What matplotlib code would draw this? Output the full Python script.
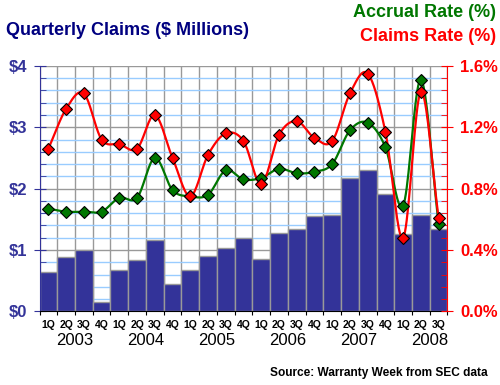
import numpy as np
import matplotlib
matplotlib.use('Agg')
import matplotlib.pyplot as plt
from matplotlib.ticker import MultipleLocator, FixedLocator, FuncFormatter
from matplotlib.transforms import blended_transform_factory

plt.rcParams['font.family'] = ['Liberation Sans', 'DejaVu Sans']

quarters = ['1Q', '2Q', '3Q', '4Q'] * 5 + ['1Q', '2Q', '3Q']
years = ['2003', '2004', '2005', '2006', '2007', '2008']

# quarterly claims, $ millions
claims = [0.64, 0.88, 1.00, 0.15, 0.68, 0.83, 1.17, 0.44, 0.68, 0.91, 1.04, 1.19,
          0.86, 1.28, 1.35, 1.55, 1.57, 2.17, 2.30, 1.92, 1.26, 1.57, 1.35]
# claims rate, %
claims_rate = [1.06, 1.32, 1.42, 1.12, 1.09, 1.06, 1.28, 1.00, 0.75, 1.02, 1.16, 1.11,
               0.83, 1.15, 1.24, 1.13, 1.11, 1.42, 1.55, 1.17, 0.48, 1.43, 0.61]
# accrual rate, %
accrual_rate = [0.67, 0.65, 0.65, 0.65, 0.74, 0.74, 1.00, 0.79, 0.75, 0.76, 0.92, 0.86,
                0.87, 0.93, 0.90, 0.91, 0.96, 1.18, 1.23, 1.07, 0.69, 1.51, 0.57]

NAVY = '#333399'
RED = '#ff0000'
GREEN = '#007700'


def smooth(x, y, n=20):
    # catmull-rom curve through the points, just for drawing
    x = np.asarray(x, float)
    y = np.asarray(y, float)
    px = np.concatenate([[2 * x[0] - x[1]], x, [2 * x[-1] - x[-2]]])
    py = np.concatenate([[2 * y[0] - y[1]], y, [2 * y[-1] - y[-2]]])
    xs, ys = [], []
    t = np.linspace(0, 1, n, endpoint=False)
    for i in range(1, len(px) - 2):
        for p, out in ((px, xs), (py, ys)):
            p0, p1, p2, p3 = p[i - 1], p[i], p[i + 1], p[i + 2]
            out.extend(0.5 * (2 * p1 + (-p0 + p2) * t
                              + (2 * p0 - 5 * p1 + 4 * p2 - p3) * t ** 2
                              + (-p0 + 3 * p1 - 3 * p2 + p3) * t ** 3))
    xs.append(x[-1])
    ys.append(y[-1])
    return xs, ys


fig = plt.figure(figsize=(5, 3.85), dpi=100)
ax = fig.add_axes([0.079, 0.191, 0.816, 0.638])
x = np.arange(len(claims))

ax.bar(x, claims, width=1.0, color=NAVY, edgecolor='#999999', linewidth=1, zorder=2)
ax.set_xlim(-0.5, len(claims) - 0.5)
ax.set_ylim(0, 4)
ax.set_axisbelow(True)

ax.yaxis.set_major_locator(MultipleLocator(1))
ax.yaxis.set_minor_locator(MultipleLocator(0.2))
ax.yaxis.set_major_formatter(FuncFormatter(lambda v, p: f'${v:.0f}'))
ax.grid(which='minor', axis='y', color='#99ccff', linewidth=1)
ax.grid(which='major', axis='y', color='#999999', linewidth=1)

ax.xaxis.set_major_locator(FixedLocator(np.arange(len(claims) + 1) - 0.5))
ax.xaxis.set_minor_locator(FixedLocator(x))
ax.set_xticklabels([])
ax.set_xticklabels(quarters, minor=True, fontsize=7.5, fontweight='bold')
ax.grid(which='major', axis='x', color='#999999', linewidth=1)
ax.tick_params(axis='x', which='major', length=3, color='black')
ax.tick_params(axis='x', which='minor', length=0, pad=6)

ax.tick_params(axis='y', which='major', direction='inout', length=8, color=NAVY,
               labelcolor=NAVY, labelsize=12, pad=5)
ax.tick_params(axis='y', which='minor', direction='in', length=4, color=NAVY)
for lab in ax.get_yticklabels():
    lab.set_fontweight('bold')
ax.spines['top'].set_visible(False)
ax.spines['left'].set_color(NAVY)
ax.spines['right'].set_visible(False)

tr = blended_transform_factory(ax.transData, ax.transAxes)
for k, yr in enumerate(years):
    ax.text(4 * k + 1.5, -0.117, yr, transform=tr, ha='center', va='center',
            fontsize=12)

ax2 = ax.twinx()
ax2.set_ylim(0, 1.6)
ax2.yaxis.set_major_locator(MultipleLocator(0.4))
ax2.yaxis.set_minor_locator(MultipleLocator(0.08))
ax2.yaxis.set_major_formatter(FuncFormatter(lambda v, p: f'{v:.1f}%'))
ax2.tick_params(axis='y', which='major', direction='inout', length=8, color=RED,
                labelcolor=RED, labelsize=12, pad=5)
ax2.tick_params(axis='y', which='minor', direction='in', length=4, color=RED)
for lab in ax2.get_yticklabels():
    lab.set_fontweight('bold')
for side in ('top', 'left', 'bottom'):
    ax2.spines[side].set_visible(False)
ax2.spines['right'].set_color(RED)

sx, sy = smooth(x, accrual_rate)
ax2.plot(sx, sy, color=GREEN, linewidth=1.6, zorder=3, clip_on=False)
sx, sy = smooth(x, claims_rate)
ax2.plot(sx, sy, color=RED, linewidth=1.6, zorder=3, clip_on=False)
ax2.plot(x, accrual_rate, 'D', color=GREEN, markeredgecolor='black',
         markeredgewidth=0.8, markersize=6.5, zorder=4, clip_on=False)
ax2.plot(x, claims_rate, 'D', color=RED, markeredgecolor='black',
         markeredgewidth=0.8, markersize=6.5, zorder=5, clip_on=False)

fig.text(0.012, 0.922, 'Quarterly Claims ($ Millions)', color='#000080',
         fontsize=13, fontweight='bold', va='center', ha='left')
fig.text(0.992, 0.968, 'Accrual Rate (%)', color=GREEN, fontsize=13,
         fontweight='bold', va='center', ha='right')
fig.text(0.992, 0.906, 'Claims Rate (%)', color=RED, fontsize=13,
         fontweight='bold', va='center', ha='right')
fig.text(0.976, 0.031, 'Source: Warranty Week from SEC data', color='black',
         fontsize=8.6, fontweight='bold', va='center', ha='right')

fig.savefig('out.png', dpi=100)
